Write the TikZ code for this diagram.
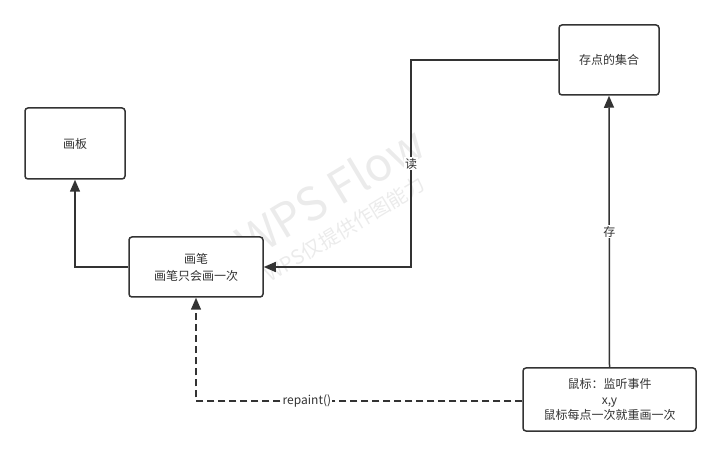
\documentclass[tikz,border=0pt]{standalone}
\usepackage{fontspec}
\setmainfont{Noto Sans CJK SC}
\usetikzlibrary{arrows.meta}
\definecolor{ink}{HTML}{333333}
\definecolor{wm}{HTML}{EBEBEB}
\tikzset{
  box/.style={draw=ink, line width=1.5pt, rounded corners=3pt, fill=white,
    align=center, text=ink, font=\fontsize{12}{17}\selectfont, inner sep=2pt},
  conn/.style={draw=ink, line width=1.5pt, -{Triangle[length=12pt,width=10pt]}},
  dashconn/.style={conn, dash pattern=on 7pt off 4pt},
  lbl/.style={fill=white, text=ink, font=\fontsize{12}{14}\selectfont, inner sep=1pt},
  wmark/.style={text=wm, rotate=31}
}
\begin{document}
\begin{tikzpicture}[x=1pt,y=-1pt]
\useasboundingbox (0,0) rectangle (721,457);
\node[wmark, font=\fontsize{46}{46}\selectfont] (wm1) at (330,192) {WPS Flow};
\node[wmark, font=\fontsize{20}{20}\selectfont] (wm2) at (345,229) {WPS仅提供作图能力};
\node[box, minimum width=100pt, minimum height=71pt] (board) at (75,143.5) {画板};
\node[box, minimum width=134pt, minimum height=60pt] (pen) at (196,267) {画笔\\画笔只会画一次};
\node[box, minimum width=100pt, minimum height=70pt] (set) at (609,60) {存点的集合};
\node[box, minimum width=173pt, minimum height=63pt, font=\fontsize{12}{15.5}\selectfont] (mouse) at (609.5,399.5) {鼠标：监听事件\\x,y\\鼠标每点一次就重画一次};
\draw[conn] (pen.west) -| (board.south);
\draw[conn] (set.west) -- (411,60) -- node[lbl] (lr) {读} (411,267) -- (pen.east);
\draw[conn] (mouse.north) -- node[lbl] (ls) {存} (set.south);
\draw[dashconn] (mouse.west |- 0,401) -- node[lbl, pos=0.66] (lp) {repaint()} (196,401) -- (pen.south);
\end{tikzpicture}
\end{document}
